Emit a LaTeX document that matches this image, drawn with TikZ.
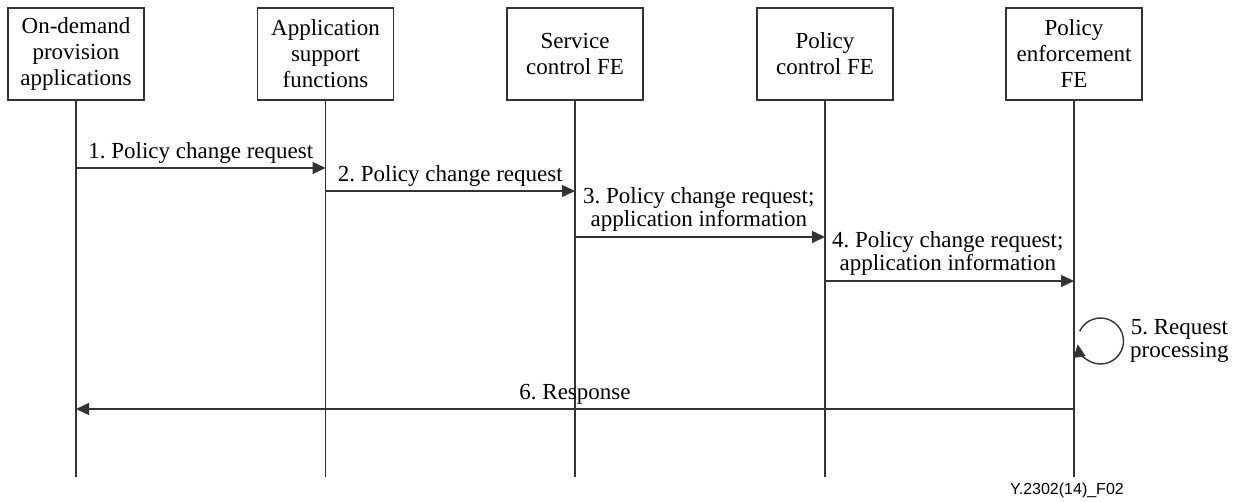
\documentclass[tikz,border=0pt]{standalone}
\usepackage{fontspec}
\setmainfont{Liberation Serif}
\newfontfamily\footfont{Liberation Sans}
\usetikzlibrary{arrows.meta,calc}
\frenchspacing
\begin{document}
\begin{tikzpicture}[x=1pt,y=-1pt,
  ink/.style={draw=black!80,line width=1.4pt},
  entity/.style={ink,minimum width=136pt,minimum height=92pt,align=center,inner sep=2pt,
    font=\fontsize{23}{26}\selectfont},
  lifeline/.style={ink},
  msg/.style={ink,-{Triangle[length=13pt,width=12pt]}},
  lbl/.style={font=\fontsize{23}{23}\selectfont,align=center,inner sep=0pt}]
\useasboundingbox (0,0) rectangle (1242,501);

% participants
\node[entity] (p1) at (76,54) {On-demand\\provision\\applications};
\node[entity] (p2) at (325.5,54) {Application\\support\\functions};
\node[entity] (p3) at (575,54) {Service\\control FE};
\node[entity] (p4) at (825,54) {Policy\\control FE};
\node[entity] (p5) at (1074,54) {Policy\\enforcement\\FE};

% lifeline ends
\coordinate (e1) at (p1.south |- 0,477);
\coordinate (e2) at (p2.south |- 0,477);
\coordinate (e3) at (p3.south |- 0,477);
\coordinate (e4) at (p4.south |- 0,477);
\coordinate (e5) at (p5.south |- 0,477);
\foreach \i in {1,...,5} \draw[lifeline] (p\i.south) -- (e\i);

% message anchors on lifelines
\coordinate (a1) at (p1.south |- 0,168);
\coordinate (b1) at (p2.south |- 0,168);
\coordinate (a2) at (p2.south |- 0,191);
\coordinate (b2) at (p3.south |- 0,191);
\coordinate (a3) at (p3.south |- 0,237);
\coordinate (b3) at (p4.south |- 0,237);
\coordinate (a4) at (p4.south |- 0,281);
\coordinate (b4) at (p5.south |- 0,281);
\coordinate (a6) at (p5.south |- 0,409);
\coordinate (b6) at (p1.south |- 0,409);

\draw[msg] (a1) -- (b1) node[lbl,pos=0.5,above=4pt] (t1) {1. Policy change request};
\draw[msg] (a2) -- (b2) node[lbl,pos=0.5,above=4pt] (t2) {2. Policy change request};
\draw[msg] (a3) -- (b3);
\node[lbl,anchor=south west] (t3) at (583,232) {3. Policy change request;\\application information};
\draw[msg] (a4) -- (b4);
\node[lbl,anchor=south west] (t4) at (832,276) {4. Policy change request;\\application information};

% self message: loop leaves the lifeline and comes back to it
\coordinate (s5) at ($(1100.5,341)+(155:23pt)$);
\draw[msg] (s5) arc[start angle=155,end angle=-172,radius=23pt];
\node[lbl,anchor=west] (t5) at (1130,341) {5. Request\\processing};

\draw[msg] (a6) -- (b6) node[lbl,pos=0.5,above=4pt] (t6) {6. Response};

\node[font=\footfont\fontsize{16}{18}\selectfont,anchor=base] (fig) at (1067,494) {Y.2302(14)\_F02};
\end{tikzpicture}
\end{document}
